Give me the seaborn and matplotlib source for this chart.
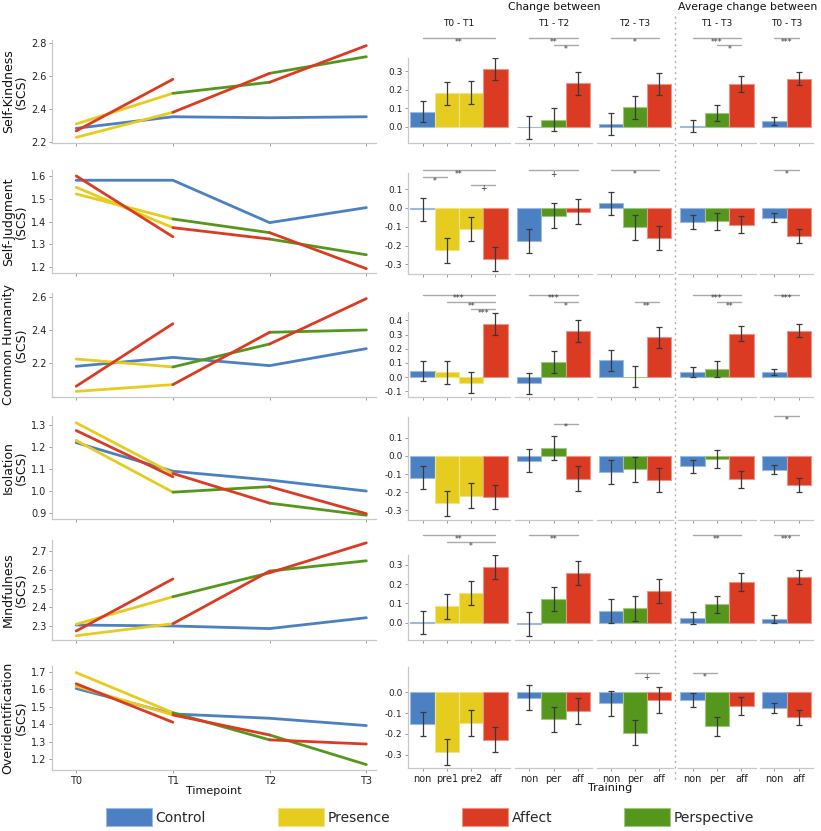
import numpy as np
import pandas as pd
import matplotlib
matplotlib.use("Agg")
import matplotlib.pyplot as plt
import seaborn as sns
from matplotlib.patches import Patch
from matplotlib.lines import Line2D
from matplotlib.colors import to_rgb

# ---------------- data ----------------
palette = {"Control": "#4b80c3", "Presence": "#e5cc1f",
           "Affect": "#da3b22", "Perspective": "#55971c"}

timepoints = ["T0", "T1", "T2", "T3"]
scales = ["Self-Kindness", "Self-Judgment", "Common Humanity",
          "Isolation", "Mindfulness", "Overidentification"]

# module order of each cohort between consecutive timepoints
control_modules = ["Control"]
cohort1_modules = ["Presence", "Affect", "Perspective"]
cohort2_modules = ["Presence", "Perspective", "Affect"]
cohort3_modules = ["Affect"]

# mean scores per timepoint
control_means = {
    "Self-Kindness": [2.283, 2.353, 2.347, 2.353],
    "Self-Judgment": [1.581, 1.581, 1.395, 1.461],
    "Common Humanity": [2.180, 2.234, 2.184, 2.287],
    "Isolation": [1.220, 1.090, 1.050, 1.000],
    "Mindfulness": [2.305, 2.300, 2.286, 2.344],
    "Overidentification": [1.605, 1.459, 1.434, 1.392],
}
cohort1_means = {
    "Self-Kindness": [2.228, 2.380, 2.616, 2.717],
    "Self-Judgment": [1.550, 1.373, 1.323, 1.254],
    "Common Humanity": [2.028, 2.069, 2.386, 2.400],
    "Isolation": [1.310, 1.080, 0.945, 0.890],
    "Mindfulness": [2.248, 2.312, 2.593, 2.648],
    "Overidentification": [1.618, 1.453, 1.338, 1.168],
}
cohort2_means = {
    "Self-Kindness": [2.309, 2.495, 2.562, 2.784],
    "Self-Judgment": [1.521, 1.411, 1.351, 1.193],
    "Common Humanity": [2.224, 2.176, 2.315, 2.590],
    "Isolation": [1.230, 0.995, 1.020, 0.897],
    "Mindfulness": [2.309, 2.456, 2.584, 2.744],
    "Overidentification": [1.696, 1.466, 1.310, 1.286],
}
cohort3_means = {
    "Self-Kindness": [2.267, 2.580],
    "Self-Judgment": [1.600, 1.333],
    "Common Humanity": [2.059, 2.438],
    "Isolation": [1.275, 1.065],
    "Mindfulness": [2.273, 2.551],
    "Overidentification": [1.632, 1.411],
}

# change scores
facet_names = ["T0 - T1", "T1 - T2", "T2 - T3", "T1 - T3", "T0 - T3"]
facet_groups = [["non", "pre1", "pre2", "aff"], ["non", "per", "aff"],
                ["non", "per", "aff"], ["non", "per", "aff"], ["non", "aff"]]
facet_modules = [["Control", "Presence", "Presence", "Affect"],
                 ["Control", "Perspective", "Affect"],
                 ["Control", "Perspective", "Affect"],
                 ["Control", "Perspective", "Affect"],
                 ["Control", "Affect"]]

change_mean = {
    "Self-Kindness": [[0.083, 0.182, 0.186, 0.313], [-0.003, 0.040, 0.237],
                      [0.015, 0.107, 0.232], [0.006, 0.074, 0.233], [0.030, 0.260]],
    "Self-Judgment": [[-0.008, -0.225, -0.112, -0.272], [-0.174, -0.040, -0.020],
                      [0.024, -0.102, -0.158], [-0.075, -0.071, -0.089], [-0.051, -0.149]],
    "Common Humanity": [[0.040, 0.032, -0.040, 0.374], [-0.045, 0.107, 0.325],
                        [0.117, 0.003, 0.280], [0.034, 0.055, 0.305], [0.035, 0.327]],
    "Isolation": [[-0.120, -0.260, -0.220, -0.226], [-0.026, 0.045, -0.125],
                  [-0.088, -0.074, -0.133], [-0.057, -0.015, -0.130], [-0.077, -0.162]],
    "Mindfulness": [[0.002, 0.085, 0.155, 0.288], [-0.007, 0.124, 0.258],
                    [0.060, 0.074, 0.163], [0.025, 0.097, 0.212], [0.017, 0.236]],
    "Overidentification": [[-0.154, -0.288, -0.146, -0.227], [-0.025, -0.130, -0.091],
                           [-0.052, -0.194, -0.037], [-0.038, -0.163, -0.065], [-0.077, -0.120]],
}
change_se = {
    "Self-Kindness": [[0.058, 0.062, 0.060, 0.060], [0.060, 0.060, 0.062],
                      [0.060, 0.062, 0.060], [0.032, 0.043, 0.043], [0.021, 0.035]],
    "Self-Judgment": [[0.060, 0.065, 0.065, 0.065], [0.064, 0.066, 0.067],
                      [0.063, 0.067, 0.064], [0.036, 0.045, 0.045], [0.025, 0.038]],
    "Common Humanity": [[0.070, 0.078, 0.076, 0.076], [0.073, 0.076, 0.075],
                        [0.075, 0.076, 0.076], [0.037, 0.055, 0.053], [0.024, 0.045]],
    "Isolation": [[0.064, 0.069, 0.068, 0.067], [0.065, 0.067, 0.068],
                  [0.068, 0.069, 0.067], [0.036, 0.050, 0.048], [0.025, 0.039]],
    "Mindfulness": [[0.060, 0.064, 0.063, 0.062], [0.062, 0.063, 0.063],
                    [0.062, 0.064, 0.063], [0.032, 0.044, 0.045], [0.021, 0.036]],
    "Overidentification": [[0.058, 0.063, 0.062, 0.062], [0.060, 0.061, 0.062],
                           [0.060, 0.061, 0.061], [0.034, 0.046, 0.044], [0.024, 0.036]],
}

# significance brackets: (facet, from bar, to bar, label, level)
signif = {
    "Self-Kindness": [(0, 0, 3, "**", 0), (1, 0, 2, "**", 0), (1, 1, 2, "*", 1),
                      (2, 0, 2, "*", 0), (3, 0, 2, "***", 0), (3, 1, 2, "*", 1),
                      (4, 0, 1, "***", 0)],
    "Self-Judgment": [(0, 0, 3, "**", 0), (0, 0, 1, "*", 1), (0, 2, 3, "+", 2),
                      (1, 0, 2, "+", 0), (2, 0, 2, "*", 0), (4, 0, 1, "*", 0)],
    "Common Humanity": [(0, 0, 3, "***", 0), (0, 1, 3, "**", 1), (0, 2, 3, "***", 2),
                        (1, 0, 2, "***", 0), (1, 1, 2, "*", 1), (2, 1, 2, "**", 1),
                        (3, 0, 2, "***", 0), (3, 1, 2, "**", 1), (4, 0, 1, "***", 0)],
    "Isolation": [(1, 1, 2, "*", 1), (4, 0, 1, "*", 0)],
    "Mindfulness": [(0, 0, 3, "**", 0), (0, 1, 3, "*", 1), (1, 0, 2, "**", 0),
                    (3, 0, 2, "**", 0), (4, 0, 1, "***", 0)],
    "Overidentification": [(2, 1, 2, "+", 0), (3, 0, 1, "*", 0)],
}

# ---------------- layout (pixels) ----------------
W, H = 821, 831
line_x = (52, 376)
line_rows = [(40, 143), (170, 273), (293, 397), (416, 519), (540, 640), (666, 770)]
line_ylim = [(2.194, 2.818), (1.174, 1.626), (1.994, 2.624),
             (0.873, 1.341), (2.225, 2.759), (1.137, 1.734)]
line_ticks = [[2.2, 2.4, 2.6, 2.8], [1.2, 1.3, 1.4, 1.5, 1.6], [2.2, 2.4, 2.6],
              [0.9, 1.0, 1.1, 1.2, 1.3], [2.3, 2.4, 2.5, 2.6, 2.7],
              [1.2, 1.3, 1.4, 1.5, 1.6, 1.7]]
bar_rows = [(58, 143), (173, 274), (312, 397), (417, 520), (555, 640), (667, 768)]
bar_ylim = [(-0.087, 0.373), (-0.351, 0.186), (-0.141, 0.459),
            (-0.353, 0.214), (-0.09, 0.352), (-0.364, 0.122)]
bar_ticks = [[0, 0.1, 0.2, 0.3], [-0.3, -0.2, -0.1, 0, 0.1],
             [-0.1, 0, 0.1, 0.2, 0.3, 0.4], [-0.3, -0.2, -0.1, 0, 0.1],
             [0, 0.1, 0.2, 0.3], [-0.3, -0.2, -0.1, 0]]
facet_x = [(408, 510), (515, 592), (597, 673), (678, 756), (760, 813)]
bracket_top = [0.481, 0.201, 0.581, 0.218, 0.455, 0.091]
bracket_step_px = 7.3

sns.set_style("ticks")
plt.rcParams["font.family"] = ["DejaVu Sans"]
plt.rcParams["axes.unicode_minus"] = False

spine_col = "#c8c8c8"
tick_col = "#999999"
text_col = "#222222"


def box(x0, y0, x1, y1):
    return [x0 / W, 1 - y1 / H, (x1 - x0) / W, (y1 - y0) / H]


def lighten(c, f=0.45):
    r, g, b = to_rgb(c)
    return (r + (1 - r) * f, g + (1 - g) * f, b + (1 - b) * f)


def style_axes(ax, left=True):
    sns.despine(ax=ax, left=not left)
    for s in ["left", "bottom"]:
        ax.spines[s].set_color(spine_col)
        ax.spines[s].set_linewidth(0.9)
    ax.tick_params(length=2.5, width=0.7, color=tick_col, labelcolor=text_col,
                   pad=1.5)


fig = plt.figure(figsize=(W / 100, H / 100), dpi=100)

# ---------------- left: trajectories ----------------
for r, scale in enumerate(scales):
    rows = []
    seg = 0
    vals = control_means[scale]
    for t, v in enumerate(vals):
        rows.append({"seg": seg, "t": t, "value": v, "module": "Control"})
    seg += 1
    for mods, means in [(cohort1_modules, cohort1_means), (cohort2_modules, cohort2_means),
                        (cohort3_modules, cohort3_means)]:
        vals = means[scale]
        for k, m in enumerate(mods):
            rows.append({"seg": seg, "t": k, "value": vals[k], "module": m})
            rows.append({"seg": seg, "t": k + 1, "value": vals[k + 1], "module": m})
            seg += 1
    df = pd.DataFrame(rows)

    top, bot = line_rows[r]
    ax = fig.add_axes(box(line_x[0], top, line_x[1], bot))
    sns.lineplot(data=df, x="t", y="value", hue="module", units="seg",
                 estimator=None, palette=palette, linewidth=2.0, sort=False,
                 legend=False, ax=ax,
                 hue_order=["Control", "Presence", "Perspective", "Affect"])
    ax.set_xlim(-0.25, 3.1)
    ax.set_ylim(*line_ylim[r])
    ax.set_yticks(line_ticks[r])
    ax.yaxis.set_major_formatter(matplotlib.ticker.FormatStrFormatter("%.1f"))
    ax.set_xticks(range(4))
    ax.set_xlabel("")
    ax.set_ylabel("")
    style_axes(ax)
    ax.tick_params(labelsize=7)
    if r == len(scales) - 1:
        ax.set_xticklabels(timepoints)
    else:
        ax.set_xticklabels([])
    fig.text(15 / W, 1 - (top + bot) / 2 / H, scale + "\n(SCS)", rotation=90,
             ha="center", va="center", multialignment="center", fontsize=9,
             linespacing=1.05, color="#111111")

fig.text(214 / W, 1 - 791 / H, "Timepoint", ha="center", va="center",
         fontsize=8, color="#111111")

# ---------------- right: change scores ----------------
for r, scale in enumerate(scales):
    top, bot = bar_rows[r]
    axes = []
    for f in range(5):
        x0, x1 = facet_x[f]
        ax = fig.add_axes(box(x0, top, x1, bot))
        groups = facet_groups[f]
        d = pd.DataFrame({"group": groups, "mean": change_mean[scale][f],
                          "se": change_se[scale][f], "module": facet_modules[f]})
        sns.barplot(data=d, x="group", y="mean", hue="module", palette=palette,
                    order=groups, dodge=False, width=1.0, errorbar=None,
                    saturation=1, legend=False, ax=ax)
        for p in ax.patches:
            p.set_edgecolor(lighten(p.get_facecolor()))
            p.set_linewidth(0.8)
        ax.errorbar(np.arange(len(groups)), d["mean"], yerr=d["se"], fmt="none",
                    ecolor="#3a3a3a", elinewidth=0.9, capsize=2.2, capthick=0.9)
        n = len(groups)
        ax.set_xlim(-0.6, n - 0.4)
        ax.set_ylim(*bar_ylim[r])
        ax.set_yticks(bar_ticks[r])
        ax.yaxis.set_major_formatter(matplotlib.ticker.FormatStrFormatter("%.1f"))
        ax.set_xlabel("")
        ax.set_ylabel("")
        style_axes(ax, left=(f == 0))
        ax.tick_params(labelsize=6.5)
        if f > 0:
            ax.tick_params(axis="y", left=False, labelleft=False)
        if r == len(scales) - 1:
            ax.tick_params(axis="x", labelsize=7)
        else:
            ax.set_xticklabels([])
        if r == 0:
            fig.text((x0 + x1) / 2 / W, 1 - 24 / H, facet_names[f], ha="center",
                     va="center", fontsize=6.5, color="#111111")
        axes.append(ax)

    # significance brackets
    y0, y1 = bar_ylim[r]
    px_per_unit = (bot - top) / (y1 - y0)
    for f, i, j, lab, lev in signif[scale]:
        ax = axes[f]
        yb = bracket_top[r] - lev * bracket_step_px / px_per_unit
        ax.plot([i, j], [yb, yb], color="#aaaaaa", lw=1.0, clip_on=False)
        ax.text((i + j) / 2, yb - 4.2 / px_per_unit, lab, ha="center",
                va="center", fontsize=5.5, color="#333333", clip_on=False)

fig.text(610 / W, 1 - 788 / H, "Training", ha="center", va="center",
         fontsize=8, color="#111111")
fig.text(554 / W, 1 - 7 / H, "Change between", ha="center", va="center",
         fontsize=7.8, color="#111111")
fig.text(748 / W, 1 - 7 / H, "Average change between", ha="center", va="center",
         fontsize=7.8, color="#111111")

# dotted separator
fig.add_artist(Line2D([675 / W, 675 / W], [1 - 16 / H, 1 - 782 / H],
                      color="#b0b0b0", lw=1.0, linestyle=(0, (1.5, 2.5))))

# legend
legend_labels = ["Control", "Presence", "Affect", "Perspective"]
handles = [Patch(facecolor=palette[k], edgecolor=lighten(palette[k]),
                 linewidth=0.8, label=k) for k in legend_labels]
fig.legend(handles=handles, loc="center", ncol=4, frameon=False,
           bbox_to_anchor=(430 / W, 1 - 817 / H), fontsize=10,
           handlelength=3.3, handleheight=1.7, handletextpad=0.25,
           columnspacing=5.2, borderaxespad=0)

fig.savefig("out.png", dpi=100)
